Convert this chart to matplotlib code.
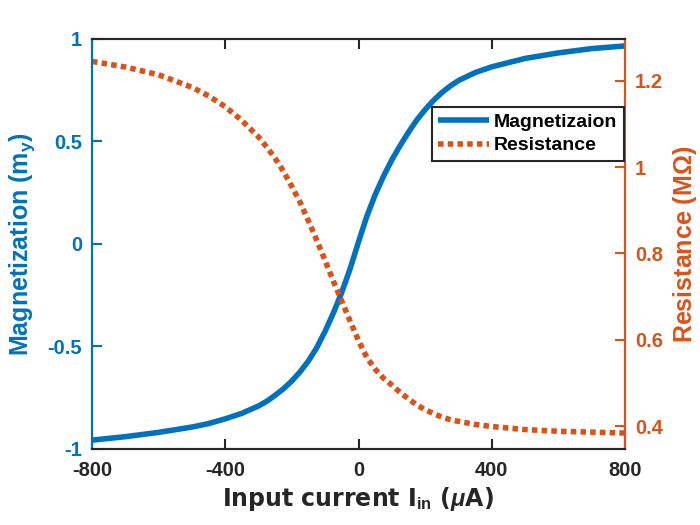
import numpy as np
import matplotlib
matplotlib.use('Agg')
import matplotlib.pyplot as plt

plt.rcParams['font.family'] = ['Liberation Sans', 'DejaVu Sans']
plt.rcParams['font.weight'] = 'bold'
plt.rcParams['axes.unicode_minus'] = False
plt.rcParams['mathtext.fontset'] = 'custom'
plt.rcParams['mathtext.rm'] = 'Liberation Sans:bold'
plt.rcParams['mathtext.bf'] = 'Liberation Sans:bold'
plt.rcParams['mathtext.it'] = 'Liberation Sans:italic:bold'

blue = '#0072BD'
orange = '#D95319'
dark = '#262626'

current = [-800, -700, -600, -500, -450, -400, -350, -300, -275, -250, -225, -200, -175,
           -150, -125, -100, -75, -50, -25, 0, 25, 50, 75, 100, 125, 150, 175, 200,
           225, 250, 275, 300, 350, 400, 500, 600, 700, 800]
magnet = [-0.957, -0.94, -0.919, -0.893, -0.876, -0.853, -0.826, -0.79, -0.767, -0.738,
          -0.706, -0.668, -0.623, -0.57, -0.505, -0.425, -0.335, -0.235, -0.12, 0.01,
          0.135, 0.24, 0.33, 0.41, 0.48, 0.545, 0.605, 0.655, 0.70, 0.738, 0.77,
          0.797, 0.836, 0.864, 0.905, 0.932, 0.953, 0.966]
resist = [1.245, 1.232, 1.214, 1.185, 1.165, 1.14, 1.108, 1.07, 1.046, 1.02, 0.99,
          0.955, 0.918, 0.875, 0.83, 0.783, 0.735, 0.689, 0.643, 0.598, 0.559, 0.532,
          0.511, 0.495, 0.478, 0.463, 0.449, 0.438, 0.429, 0.421, 0.415, 0.411, 0.404,
          0.399, 0.392, 0.388, 0.386, 0.384]

fig = plt.figure(figsize=(7, 5.25), dpi=100)
ax = fig.add_axes([0.1314, 0.1448, 0.7615, 0.781])
ax2 = ax.twinx()

l1, = ax.plot(current, magnet, color=blue, lw=4, solid_capstyle='butt',
              solid_joinstyle='round', label='Magnetizaion')
l2, = ax2.plot(current, resist, color=orange, lw=4, linestyle=(0, (1, 0.75)),
               dash_capstyle='butt', label='Resistance')

ax.set_xlim(-800, 800)
ax.set_ylim(-1, 1)
ax2.set_ylim(0.347, 1.297)
ax.set_xticks([-800, -400, 0, 400, 800])
ax.set_yticks([-1, -0.5, 0, 0.5, 1])
ax.set_yticklabels(['-1', '-0.5', '0', '0.5', '1'])
ax2.set_yticks([0.4, 0.6, 0.8, 1.0, 1.2])
ax2.set_yticklabels(['0.4', '0.6', '0.8', '1', '1.2'])

ax.tick_params(axis='x', direction='in', top=True, length=7, width=1.5, colors=dark,
               labelsize=14.5, pad=9)
ax.tick_params(axis='y', direction='in', length=7, width=1.5, colors=blue,
               labelsize=14.5, pad=7)
ax2.tick_params(axis='y', direction='in', length=7, width=1.5, colors=orange,
                labelsize=14.5, pad=7)

for a in (ax, ax2):
    for s in a.spines.values():
        s.set_linewidth(1.5)
    a.spines['top'].set_color(dark)
    a.spines['bottom'].set_color(dark)
    a.spines['left'].set_color(blue)
    a.spines['right'].set_color(orange)

ax.set_xlabel(r'Input current I$_{\mathbf{in}}$ ($\mathit{\mu}$A)', fontsize=17,
              fontweight='bold', family='DejaVu Sans', color=dark, labelpad=3)
ax.set_ylabel(r'Magnetization (m$_{\mathbf{y}}$)', fontsize=18, fontweight='bold',
              color=blue, labelpad=8)
ax2.set_ylabel(r'Resistance (M$\mathit{\Omega}$)', fontsize=18, fontweight='bold',
               color=orange, labelpad=6)

leg = ax2.legend([l1, l2], ['Magnetizaion', 'Resistance'], loc='upper left',
                 bbox_to_anchor=(0.637, 0.835), fancybox=False, framealpha=1,
                 edgecolor=dark, fontsize=14, handlelength=2.6, handletextpad=0.25,
                 borderpad=0.35, labelspacing=0.3, borderaxespad=0)
leg.get_frame().set_linewidth(1.5)
for t in leg.get_texts():
    t.set_fontweight('bold')

fig.savefig('out.png', dpi=100)
